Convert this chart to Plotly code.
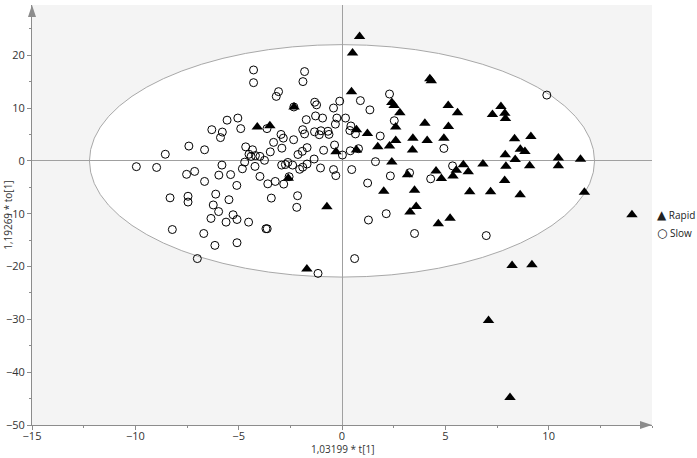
import plotly.graph_objects as go

# ---- data ----
slow_x = [-4.28, -4.28, -1.81, -1.89, -3.07, -3.18, -2.33, -1.32, -1.23, -0.11, -0.41,
          -5.04, -5.56, -6.30, -5.79, -5.88, -4.90, -3.63, -1.73, -1.28, -0.94, -0.25, 0.17,
          -0.32, -1.90, -1.81, -1.33, -1.10, -1.02, -0.68, -0.63, -2.95, -2.84, -3.31, -2.91,
          -2.34, -1.69, -1.92, -2.13, -0.89, -0.36, 0.02, 0.40, 0.80, -7.41, -6.65, -8.55,
          -4.66, -4.33, -4.50, -4.40, -4.19, -3.97, -3.47, -3.75, -4.71, -5.81, -4.21, -4.82,
          -2.92, -2.74, -2.62, -2.39, -2.05, -1.90, -1.69, -1.35, -1.04, -0.41, -0.30, -9.95,
          -8.97, -7.52, -7.13, -6.65, -5.96, -5.39, -5.09, -3.97, -3.59, -3.23, -2.82, -2.56,
          -3.42, -2.15, -2.19, -8.32, -7.45, -7.45, -6.11, -5.47, -6.23, -5.97, -6.34, -5.27,
          -5.61, -5.08, -4.52, -3.68, -3.62, -8.21, -6.69, -6.15, -5.08, -7.00, -1.16, 9.91,
          2.30, 0.89, 1.35, 2.53, 0.43, 0.38, 0.65, 1.85, 4.93, 1.62, 0.47, 5.35, 3.27, 2.34,
          4.29, 1.24, 2.14, 1.28, 3.51, 6.98, 0.61]
slow_y = [17.2, 14.8, 16.9, 15.0, 13.1, 12.2, 10.2, 11.1, 10.6, 11.3, 10.0,
          8.1, 7.7, 5.9, 5.45, 4.4, 6.1, 6.1, 7.8, 8.5, 8.1, 8.1, 8.1,
          6.95, 5.9, 5.1, 5.5, 4.95, 5.7, 5.6, 5.0, 5.0, 4.3, 3.5, 2.4,
          4.0, 2.5, 1.8, 1.2, 2.0, 3.0, 1.1, 1.9, 2.3, 2.8, 2.1, 1.25,
          2.65, 2.1, 1.25, 0.85, 1.0, 0.85, 1.7, 0.1, -0.25, -0.8, -1.05, -1.5,
          -0.8, -0.7, -0.3, -0.8, -1.6, -1.2, -0.6, 0.35, -1.35, -1.65, -2.8, -1.1,
          -1.25, -2.55, -2.0, -3.9, -2.7, -2.6, -4.65, -2.95, -4.35, -3.9, -4.4, -3.0,
          -7.05, -6.6, -8.8, -7.0, -6.7, -7.8, -6.3, -7.35, -8.35, -9.6, -10.9, -10.2,
          -11.6, -11.1, -11.6, -12.85, -12.85, -13.0, -13.75, -16.0, -15.5, -18.5, -21.3, 12.45,
          12.65, 11.4, 9.65, 7.6, 6.6, 5.75, 5.1, 4.7, 2.35, -0.15, -1.65, -0.95, -2.25, -2.85,
          -3.4, -4.2, -10.0, -11.2, -13.75, -14.15, -18.5]

rapid_x = [0.85, 0.51, 0.46, 4.25, 4.32, 2.41, 2.52, 2.80, 2.60, 5.14, 5.59, 4.01, 5.15,
           7.69, 7.28, 7.88, 7.91, 0.70, 1.23, 2.60, 3.43, 4.12, 4.93, 1.73, 2.30, 0.70,
           3.41, 8.35, 9.14, 8.63, 8.85, 7.90, 8.38, 10.47, 10.47, 11.54, 11.73, 14.03,
           2.41, 5.87, 6.82, 7.93, 9.08, 4.55, 5.53, 6.11, 4.81, 5.37, 3.17, 7.87, 2.02,
           3.51, 6.18, 7.19, 8.62, 3.29, 3.59, 4.66, 5.23, 8.23, 9.19, 7.09, 8.13,
           -4.10, -3.49, -2.32, -0.29, -2.60, -0.73, -1.70]
rapid_y = [23.55, 20.4, 13.1, 15.55, 15.15, 11.05, 10.5, 9.1, 6.4, 10.5, 9.1, 7.1, 6.5,
           10.3, 8.75, 9.0, 8.0, 5.9, 5.2, 3.85, 4.3, 3.85, 4.3, 2.65, 2.8, 2.05,
           2.05, 4.2, 4.6, 2.2, 1.75, 1.15, 0.25, 0.55, -0.95, 0.3, -5.95, -10.2,
           -0.2, -0.75, -0.6, -1.0, -0.95, -1.9, -1.8, -2.05, -3.35, -2.85, -2.65, -3.7, -5.75,
           -5.55, -5.85, -5.85, -6.4, -9.7, -8.65, -11.9, -10.85, -19.8, -19.65, -30.2, -44.8,
           6.4, 6.65, 10.2, 1.7, -3.3, -8.7, -20.45]

# Hotelling T2 ellipse semi-axes
ell_a = 12.22
ell_b = 22.0

x_ticks = [-15, -10, -5, 0, 5, 10]
y_ticks = [-50, -40, -30, -20, -10, 0, 10, 20]
x_title = "1,03199 * t[1]"
y_title = "1,19269 * to[1]"
group_names = ["Rapid", "Slow"]
group_glyphs = ["▲", "○"]

FONT = "Open Sans, Noto Sans, sans-serif"
AX = "#8c8c8c"

fig = go.Figure()
fig.add_trace(go.Scatter(x=rapid_x, y=rapid_y, mode="markers", name=group_names[0],
                         marker=dict(symbol="triangle-up", size=10, color="black",
                                     line=dict(width=0))))
fig.add_trace(go.Scatter(x=slow_x, y=slow_y, mode="markers", name=group_names[1],
                         marker=dict(symbol="circle-open", size=8, color="black",
                                     line=dict(width=1, color="black"))))

fig.add_shape(type="circle", xref="x", yref="y", x0=-ell_a, x1=ell_a, y0=-ell_b, y1=ell_b,
              fillcolor="white", line=dict(color="#a8a8a8", width=1), layer="below")

# axis arrowheads (paper coords)
pw, ph = 620.0, 420.0
fig.add_shape(type="path", xref="paper", yref="paper",
              path=f"M {-4/pw} {1-12/ph} L {4/pw} {1-12/ph} L 0 1 Z",
              fillcolor=AX, line=dict(width=0), layer="above")
fig.add_shape(type="path", xref="paper", yref="paper",
              path=f"M {1-12/pw} {4/ph} L {1-12/pw} {-4/ph} L 1 0 Z",
              fillcolor=AX, line=dict(width=0), layer="above")

fig.add_annotation(text=x_title, xref="paper", yref="paper", x=0.5, y=-0.057,
                   showarrow=False, font=dict(size=10, color="#333", family=FONT),
                   yanchor="middle")
fig.add_annotation(text=y_title, xref="paper", yref="paper", x=-0.039, y=0.5,
                   showarrow=False, textangle=-90, font=dict(size=10, color="#333", family=FONT),
                   xanchor="center")

# legend (right side, outside the plot area)
leg_y = [0.501, 0.456]
glyph_sizes = [12, 12]
for name, glyph, gy, gs in zip(group_names, group_glyphs, leg_y, glyph_sizes):
    fig.add_annotation(text=f"<span style='font-size:{gs}px;font-family:DejaVu Sans'>{glyph}</span> {name}",
                       xref="paper", yref="paper", x=(655 - 32) / pw, y=gy,
                       xanchor="left", yanchor="middle", showarrow=False,
                       font=dict(size=10, color="#222", family=FONT))

fig.update_layout(
    width=697, height=458,
    margin=dict(l=32, r=45, t=5, b=33, autoexpand=False),
    paper_bgcolor="white", plot_bgcolor="#f4f4f4",
    font=dict(family=FONT, size=11, color="#333"),
    showlegend=False,
    xaxis=dict(range=[-15, 15], tickvals=x_ticks, showgrid=False,
               zeroline=True, zerolinecolor="#a0a0a0", zerolinewidth=1,
               showline=True, linecolor=AX, linewidth=1,
               ticks="outside", ticklen=4, tickcolor=AX, ticklabelstandoff=-3,
               minor=dict(dtick=2.5, ticks="outside", ticklen=2, tickcolor=AX),
               tickfont=dict(size=11, color="#333")),
    yaxis=dict(range=[-50, 29.5], tickvals=y_ticks, showgrid=False,
               zeroline=True, zerolinecolor="#a0a0a0", zerolinewidth=1,
               showline=True, linecolor=AX, linewidth=1,
               ticks="outside", ticklen=4, tickcolor=AX,
               minor=dict(dtick=5, ticks="outside", ticklen=2, tickcolor=AX),
               tickfont=dict(size=11, color="#333")),
)

fig.write_html("out.html", config={"displayModeBar": False},
               post_script="document.body.style.margin='0px';")
